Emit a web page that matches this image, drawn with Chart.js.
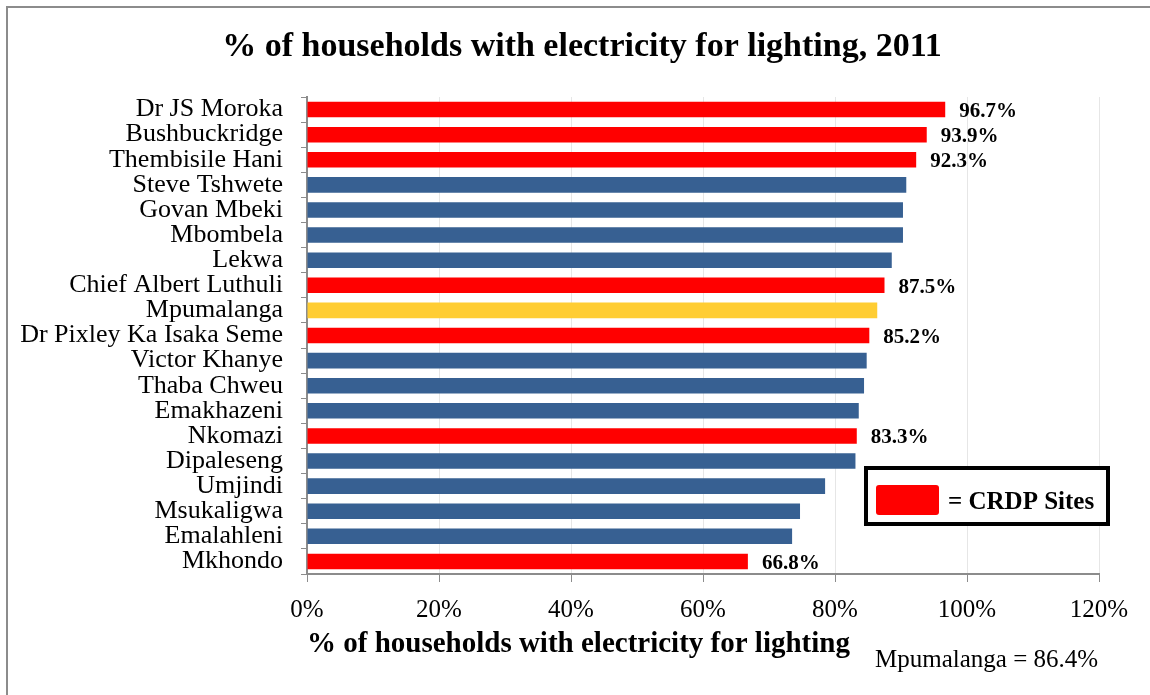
<!DOCTYPE html>
<html>
<head>
<meta charset="utf-8">
<title>% of households with electricity for lighting, 2011</title>
<script src="https://cdn.jsdelivr.net/npm/chart.js@4.4.1/dist/chart.umd.min.js"></script>
<style>
  body { margin: 0; background: #fff; }
  #wrap { width: 1150px; height: 695px; }
</style>
</head>
<body>
<div id="wrap"><canvas id="lightingChart" width="1150" height="695"></canvas></div>
<script>
// municipalities, sorted like the original chart
const districts = ["Dr JS Moroka", "Bushbuckridge", "Thembisile Hani", "Steve Tshwete", "Govan Mbeki",
  "Mbombela", "Lekwa", "Chief Albert Luthuli", "Mpumalanga", "Dr Pixley Ka Isaka Seme",
  "Victor Khanye", "Thaba Chweu", "Emakhazeni", "Nkomazi", "Dipaleseng", "Umjindi",
  "Msukaligwa", "Emalahleni", "Mkhondo"];
const pctValues = [96.7, 93.9, 92.3, 90.8, 90.3, 90.3, 88.6, 87.5, 86.4, 85.2,
  84.8, 84.4, 83.6, 83.3, 83.1, 78.5, 74.7, 73.5, 66.8];
// CRDP sites get a red bar and a value label
const crdpSites = ["Dr JS Moroka", "Bushbuckridge", "Thembisile Hani", "Chief Albert Luthuli",
  "Dr Pixley Ka Isaka Seme", "Nkomazi", "Mkhondo"];
const provinceName = "Mpumalanga";
const xTicks = [0, 20, 40, 60, 80, 100, 120];
const chartTitle = "% of households with electricity for lighting, 2011";

const RED = "#ff0000";
const BLUE = "#376092";
const YELLOW = "#ffcd33";
const SERIF = "'Liberation Serif', 'DejaVu Serif', serif";

function barColor(name) {
  if (name === provinceName) return YELLOW;
  if (crdpSites.includes(name)) return RED;
  return BLUE;
}

// grey frame, title, value labels, legend box and footnote
const extrasPlugin = {
  id: "extras",
  beforeDraw(chart) {
    const ctx = chart.ctx;
    ctx.save();
    ctx.strokeStyle = "#8c8c8c";
    ctx.lineWidth = 2;
    ctx.beginPath();
    ctx.moveTo(7, 700);
    ctx.lineTo(7, 7);
    ctx.lineTo(1155, 7);
    ctx.stroke();
    // title is centred on the whole frame, not on the plot
    ctx.fillStyle = "#000";
    ctx.font = "bold 34px " + SERIF;
    ctx.textAlign = "center";
    ctx.textBaseline = "middle";
    ctx.fillText(chartTitle, 582, 47);
    ctx.restore();
  },
  afterDatasetsDraw(chart) {
    const ctx = chart.ctx;
    const meta = chart.getDatasetMeta(0);
    ctx.save();
    ctx.font = "bold 21px " + SERIF;
    ctx.fillStyle = "#000";
    ctx.textAlign = "left";
    ctx.textBaseline = "middle";
    meta.data.forEach((bar, i) => {
      if (!crdpSites.includes(districts[i])) return;
      ctx.fillText(pctValues[i].toFixed(1) + "%", bar.x + 14, bar.y + 2);
    });
    ctx.restore();
  },
  afterDraw(chart) {
    const ctx = chart.ctx;
    ctx.save();
    // legend box
    ctx.fillStyle = "#fff";
    ctx.fillRect(866, 468, 242, 56);
    ctx.strokeStyle = "#000";
    ctx.lineWidth = 4;
    ctx.strokeRect(866, 468, 242, 56);
    ctx.fillStyle = RED;
    ctx.beginPath();
    ctx.roundRect(876, 485, 63, 30, 3);
    ctx.fill();
    ctx.fillStyle = "#000";
    ctx.font = "bold 25px " + SERIF;
    ctx.textBaseline = "middle";
    ctx.textAlign = "left";
    ctx.fillText("= CRDP Sites", 948, 503, 150);
    // footnote
    ctx.font = "25px " + SERIF;
    ctx.fillText(provinceName + " = " + pctValues[districts.indexOf(provinceName)] + "%", 875, 660, 230);
    ctx.restore();
  }
};

new Chart(document.getElementById("lightingChart"), {
  type: "bar",
  data: {
    labels: districts,
    datasets: [{
      data: pctValues,
      backgroundColor: districts.map(barColor),
      barPercentage: 0.62,
      categoryPercentage: 1.0
    }]
  },
  options: {
    indexAxis: "y",
    responsive: false,
    animation: false,
    layout: { padding: { left: 0, right: 51, top: 97, bottom: 0 } },
    plugins: {
      legend: { display: false },
      tooltip: { enabled: false },
      title: { display: false }
    },
    scales: {
      x: {
        min: xTicks[0],
        max: xTicks[xTicks.length - 1],
        afterBuildTicks(scale) { scale.ticks = xTicks.map(v => ({ value: v })); },
        afterFit(scale) { scale.height = 121; },
        ticks: {
          color: "#000",
          font: { family: SERIF, size: 25 },
          padding: 13,
          callback: v => v + "%"
        },
        grid: { color: "#e6e6e6", tickColor: "#8c8c8c", tickLength: 8, lineWidth: 1 },
        border: { color: "#8c8c8c", width: 2 },
        title: {
          display: true,
          text: "% of households with electricity for lighting",
          align: "start",
          color: "#000",
          font: { family: SERIF, size: 29, weight: "bold" },
          padding: { top: 0, bottom: 33 }
        }
      },
      y: {
        afterFit(scale) { scale.width = 307; },
        ticks: {
          color: "#000",
          font: { family: SERIF, size: 26 },
          padding: 18,
          autoSkip: false
        },
        grid: { drawOnChartArea: false, offset: true, tickColor: "#8c8c8c", tickLength: 6 },
        border: { color: "#8c8c8c", width: 2 }
      }
    }
  },
  plugins: [extrasPlugin]
});
</script>
</body>
</html>
